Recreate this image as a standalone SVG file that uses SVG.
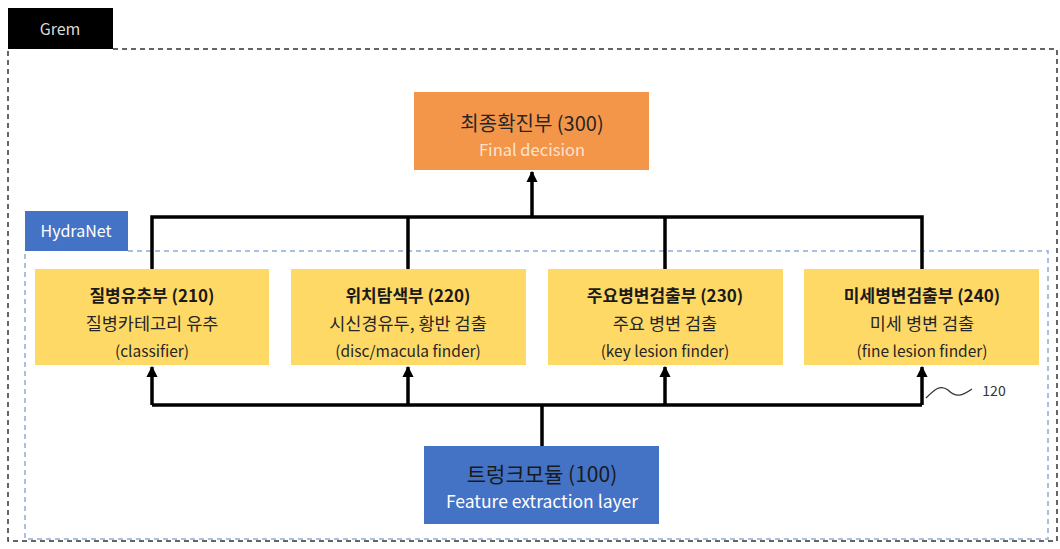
<svg xmlns="http://www.w3.org/2000/svg" width="1060" height="549" viewBox="0 0 1060 549">
<defs>
<marker id="ah" viewBox="0 0 10 10" refX="9" refY="5" markerWidth="3.2" markerHeight="3.2" orient="auto" markerUnits="strokeWidth">
<path d="M0,0 L10,5 L0,10 Z" fill="#000"/>
</marker>
<style>
text{font-family:"Noto Sans CJK KR","Noto Sans",sans-serif;text-anchor:middle}
.yb{fill:#FFD966}
.t1{font-size:17px;font-weight:bold;fill:#1a1a1a}
.t2{font-size:17.5px;fill:#262626}
.t3{font-size:15.5px;fill:#262626}
.ln{stroke:#000;stroke-width:3.5;fill:none}
</style>
</defs>
<rect width="1060" height="549" fill="#fff"/>
<g id="grem">
<path d="M113,49 H1057 V541 H8 V49" fill="none" stroke="#333" stroke-width="1.5" stroke-dasharray="5,4"/>
<rect x="8" y="8" width="105" height="41" fill="#000"/>
<text x="60" y="35" style="font-size:16px;fill:#d9d9d9">Grem</text>
</g>
<g id="hydranet">
<path d="M128,251 H1048 V539 H25 V251" fill="none" stroke="#8FAADC" stroke-width="1.5" stroke-dasharray="5,4"/>
<rect x="25" y="211" width="103" height="40" fill="#4472C4"/>
<text x="76" y="237" style="font-size:16px;fill:#fff">HydraNet</text>
</g>
<g id="connectors">
<path class="ln" d="M152,269 V217 H922 V269 M408,269 V217 M665,269 V217"/>
<path class="ln" d="M532,217 V172" marker-end="url(#ah)"/>
<path class="ln" d="M152,405 H922 M542,405 V446"/>
<path class="ln" d="M152,405 V367" marker-end="url(#ah)"/>
<path class="ln" d="M408,405 V367" marker-end="url(#ah)"/>
<path class="ln" d="M665,405 V367" marker-end="url(#ah)"/>
<path class="ln" d="M922,405 V367" marker-end="url(#ah)"/>
</g>
<g id="n300">
<rect x="414" y="92" width="235" height="78" fill="#F4964A"/>
<text x="532" y="131" style="font-size:20px;fill:#262626">최종확진부 (300)</text>
<text x="532" y="156" style="font-size:16.5px;fill:#fbe3cc">Final decision</text>
</g>
<g id="n210">
<rect class="yb" x="35" y="269" width="234" height="96"/>
<text class="t1" x="152" y="302">질병유추부 (210)</text>
<text class="t2" x="152" y="330">질병카테고리 유추</text>
<text class="t3" x="152" y="357">(classifier)</text>
</g>
<g id="n220">
<rect class="yb" x="291" y="269" width="235" height="96"/>
<text class="t1" x="408" y="302">위치탐색부 (220)</text>
<text class="t2" x="408" y="330">시신경유두, 황반 검출</text>
<text class="t3" x="408" y="357">(disc/macula finder)</text>
</g>
<g id="n230">
<rect class="yb" x="548" y="269" width="235" height="96"/>
<text class="t1" x="665" y="302">주요병변검출부 (230)</text>
<text class="t2" x="665" y="330">주요 병변 검출</text>
<text class="t3" x="665" y="357">(key lesion finder)</text>
</g>
<g id="n240">
<rect class="yb" x="804" y="269" width="235" height="96"/>
<text class="t1" x="922" y="302">미세병변검출부 (240)</text>
<text class="t2" x="922" y="330">미세 병변 검출</text>
<text class="t3" x="922" y="357">(fine lesion finder)</text>
</g>
<g id="n100">
<rect x="424" y="446" width="235" height="78" fill="#4472C4"/>
<text x="542" y="482" style="font-size:21px;fill:#1a1a1a">트렁크모듈 (100)</text>
<text x="542" y="508" style="font-size:17.5px;fill:#fff">Feature extraction layer</text>
</g>
<g id="label120">
<path d="M926,398 C934,390 940,384 948,390 C956,398 962,396 972,389" fill="none" stroke="#333" stroke-width="1.3"/>
<text x="994" y="396" style="font-size:14px;fill:#333">120</text>
</g>
</svg>
